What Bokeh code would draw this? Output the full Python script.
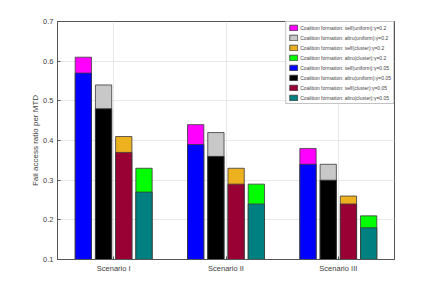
from bokeh.plotting import figure
from bokeh.models import ColumnDataSource, FactorRange, Range1d, FixedTicker, Legend, LegendItem
from bokeh.transform import dodge
from bokeh.embed import file_html
from bokeh.resources import INLINE

scenarios = ["Scenario I", "Scenario II", "Scenario III"]
# gamma = 0.2 (back bars)
self_uniform_02 = [0.61, 0.44, 0.38]
altru_uniform_02 = [0.54, 0.42, 0.34]
self_cluster_02 = [0.41, 0.33, 0.26]
altru_cluster_02 = [0.33, 0.29, 0.21]
# gamma = 0.05 (front bars)
self_uniform_005 = [0.57, 0.39, 0.34]
altru_uniform_005 = [0.48, 0.36, 0.30]
self_cluster_005 = [0.37, 0.29, 0.24]
altru_cluster_005 = [0.27, 0.24, 0.18]

y_ticks = [0.1, 0.2, 0.3, 0.4, 0.5, 0.6, 0.7]

src = ColumnDataSource(dict(
    x=scenarios,
    su02=self_uniform_02, au02=altru_uniform_02, sc02=self_cluster_02, ac02=altru_cluster_02,
    su005=self_uniform_005, au005=altru_uniform_005, sc005=self_cluster_005, ac005=altru_cluster_005,
))

FONT = "Liberation Sans"
p = figure(x_range=FactorRange(*scenarios, range_padding=0), y_range=Range1d(0.1, 0.7),
           frame_width=337, frame_height=238, output_backend="svg", toolbar_location=None,
           min_border_left=57, min_border_top=21, min_border_right=10, min_border_bottom=8)

series = [
    ("su02", -0.27, "#ff00ff", "Coalition formation: self(uniform):γ=0.2"),
    ("au02", -0.09, "#c8c8c8", "Coalition formation: altru(uniform):γ=0.2"),
    ("sc02", 0.09, "#edb120", "Coalition formation: self(cluster):γ=0.2"),
    ("ac02", 0.27, "#00ff00", "Coalition formation: altru(cluster):γ=0.2"),
    ("su005", -0.27, "#0000ff", "Coalition formation: self(uniform):γ=0.05"),
    ("au005", -0.09, "#000000", "Coalition formation: altru(uniform):γ=0.05"),
    ("sc005", 0.09, "#990033", "Coalition formation: self(cluster):γ=0.05"),
    ("ac005", 0.27, "#008080", "Coalition formation: altru(cluster):γ=0.05"),
]
items = []
for col, off, color, label in series:
    r = p.vbar(x=dodge("x", off, range=p.x_range), top=col, bottom=0.1, width=0.145, source=src,
               fill_color=color, line_color="#3a3a3a", line_width=0.8)
    items.append(LegendItem(label=label, renderers=[r]))

legend = Legend(items=items, location="top_right", label_text_font=FONT, label_text_font_size="5px",
                glyph_width=10, glyph_height=7, label_height=7, spacing=3, padding=2, margin=0,
                label_standoff=2, border_line_color="#888888", border_line_width=0.8,
                background_fill_alpha=1)
p.add_layout(legend)

p.xgrid.grid_line_color = "#e8e8e8"
p.ygrid.grid_line_color = "#e8e8e8"
p.yaxis.ticker = FixedTicker(ticks=y_ticks)
p.yaxis.axis_label = "Fail access ratio per MTD"
for ax in (p.xaxis[0], p.yaxis[0]):
    ax.major_label_text_font = FONT
    ax.major_label_text_font_size = "7.5px"
    ax.major_label_text_color = "#404040"
    ax.axis_line_color = "#555555"
    ax.major_tick_line_color = "#555555"
    ax.major_tick_in = 3
    ax.major_tick_out = 0
    ax.minor_tick_line_color = None
    ax.axis_label_text_font = FONT
    ax.axis_label_text_font_size = "8px"
    ax.axis_label_text_font_style = "normal"
    ax.axis_label_text_color = "#404040"
p.yaxis.axis_label_standoff = 0
p.yaxis.major_label_standoff = 4
p.xaxis.major_label_standoff = 4
p.outline_line_color = "#555555"

open("out.html", "w").write(file_html(p, INLINE))
